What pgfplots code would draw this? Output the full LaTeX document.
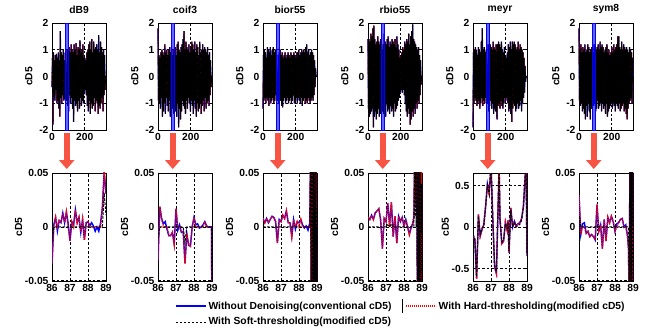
\documentclass[border=0pt]{standalone}
\usepackage{fontspec}
\setmainfont{Liberation Sans}
\usepackage{pgfplots}
\pgfplotsset{compat=1.18}
\usepackage{pgfplotstable}
\usetikzlibrary{arrows.meta}
\definecolor{arr}{RGB}{248,84,68}
\newcommand{\ff}{\bfseries\fontsize{10.3}{12}\selectfont}

\pgfplotstableread{
x D C B R M S
0 -0.4 1.8 -1.2 1.4 -1.9 1.8
3 0.7 -0.9 0.8 -1.2 0.9 -0.9
6 -1.8 0.8 -0.9 1.4 -1.0 1.0
9 0.9 -1.0 1.0 -1.5 1.0 -1.1
12 -0.8 0.7 -0.8 1.3 -0.8 1.2
15 0.6 -1.2 0.9 -1.4 1.1 -1.0
18 -0.9 0.9 -1.0 1.6 -0.9 0.9
21 0.8 -0.8 0.7 -1.3 1.0 -1.3
24 -0.5 1.0 -0.8 1.5 -1.1 1.1
27 0.85 -1.5 1.1 -1.2 0.8 -1.2
30 -1.0 0.9 -0.9 1.8 -1.0 1.0
33 0.7 -1.3 1.0 -1.9 1.1 -1.4
36 -0.9 0.8 -1.1 1.9 -0.9 1.2
39 0.9 -1.0 0.9 -1.5 1.0 -1.6
42 -1.2 1.2 -0.8 1.4 -1.2 0.9
45 0.6 -1.4 1.1 -1.3 0.9 -1.1
48 -1.5 0.9 -1.0 1.2 -1.0 1.0
51 1.7 -0.8 0.8 -1.6 1.3 -1.5
54 -0.8 1.0 -0.9 1.3 -0.8 1.2
57 0.9 -1.1 1.0 -1.4 1.8 -1.0
60 -1.0 0.8 -0.8 1.5 -1.1 1.1
63 0.8 -1.3 1.1 -1.2 1.0 -1.3
66 -0.7 1.0 -1.0 1.3 -0.9 0.9
69 1.0 -0.9 0.9 -1.5 1.1 -1.6
72 -0.9 1.1 -0.9 1.2 -1.0 1.0
75 0.6 -1.5 1.0 -1.4 0.9 -1.2
78 -0.85 0.9 -0.7 1.4 -0.8 1.1
81 0.9 -1.0 0.6 -1.1 1.0 -1.0
84 -0.6 0.8 -0.8 1.0 -0.9 0.9
87 0.02 0.01 0.02 0.02 0.03 0.01
90 -0.9 -1.2 -0.9 -1.3 -1.0 -1.1
93 1.0 1.0 0.8 1.2 1.2 1.2
96 -1.1 -1.4 -1.0 -1.4 -1.3 -1.0
99 0.8 0.9 0.9 1.6 1.0 1.1
102 -1.3 -1.0 -0.8 -1.1 -1.1 -1.3
105 1.1 1.1 1.0 1.3 1.2 1.0
108 -0.7 -1.3 -0.9 -1.5 -0.9 -1.2
111 0.9 0.8 0.8 1.2 1.1 1.1
114 -1.0 -1.5 -1.1 -1.0 -1.2 -0.9
117 1.2 1.2 0.9 1.4 1.0 1.2
120 -0.8 -1.0 -1.15 -1.3 -1.0 -1.2
123 1.0 1.3 0.7 1.5 1.3 1.0
126 -1.2 -1.9 -0.9 -1.2 -1.4 -1.1
129 0.9 1.0 0.8 1.1 1.1 1.3
132 -1.7 -1.2 -0.8 -1.4 -1.2 -1.0
135 1.2 0.9 0.9 1.3 1.0 1.1
138 -0.9 -1.6 -1.0 -1.1 -1.3 -1.3
141 1.0 1.1 0.7 1.2 1.2 1.2
144 -1.1 -1.3 -0.9 -1.3 -1.0 -1.0
147 1.25 1.2 0.8 1.4 -1.6 1.1
150 -1.0 -0.9 -0.8 -1.2 1.2 -1.2
153 0.8 1.4 0.9 1.3 -1.1 0.9
156 -1.3 -1.1 -1.0 -1.5 1.3 -1.1
159 1.1 1.7 0.8 1.2 -1.0 1.0
162 -0.9 -1.2 -0.9 -1.0 1.2 -1.4
165 1.0 1.0 0.7 1.4 -1.2 1.1
168 -1.2 -1.4 -0.8 -1.3 1.1 -1.0
171 1.35 1.3 0.9 1.1 -0.9 1.2
174 -0.8 -0.9 -1.0 -1.2 1.3 -1.5
177 0.9 1.1 0.8 1.5 -1.1 0.9
180 -1.1 -1.2 -0.9 -1.1 1.0 -1.3
183 1.0 1.0 0.8 1.2 -1.2 1.0
186 -0.9 -0.8 -0.7 -0.9 0.9 -1.2
189 1.2 1.2 0.9 1.0 -1.0 0.8
192 -1.0 -1.0 -1.0 -0.8 1.1 -1.1
195 0.7 0.9 0.8 0.7 -0.8 0.9
198 -0.6 -1.3 -0.9 -0.6 0.8 -1.0
201 0.7 1.1 0.7 0.8 -0.9 1.1
204 -0.5 -0.9 -0.8 -0.5 0.7 -1.2
207 0.6 1.3 0.9 0.9 -0.8 0.9
210 -0.7 -1.1 -1.0 -0.6 0.9 -1.0
213 0.9 1.2 0.9 1.1 -1.0 1.2
216 -1.1 -1.4 -0.8 -0.5 1.2 -1.1
219 1.0 1.0 1.0 1.0 -1.3 1.0
222 -1.3 -0.9 -0.9 -0.7 1.1 -1.3
225 1.2 1.3 0.8 1.3 -1.2 1.1
228 -0.9 -1.2 -1.0 -1.0 1.3 -1.0
231 1.3 0.9 0.9 1.2 -1.4 1.2
234 -1.4 -1.5 -0.8 -1.3 1.0 -1.1
237 1.0 1.2 1.0 1.4 -1.7 1.5
240 -1.0 -1.0 -1.1 -1.5 1.3 -1.2
243 1.4 1.1 0.9 1.3 -1.2 1.5
246 -1.2 -1.3 -0.9 -1.2 1.2 -1.0
249 0.9 0.8 1.0 1.6 -1.0 1.1
252 -1.1 -1.2 -0.8 -1.4 1.3 -1.3
255 1.3 1.3 0.9 1.2 -1.1 1.0
258 -0.8 -1.0 -1.0 -1.8 1.2 -1.2
261 1.0 0.9 1.1 1.5 -1.3 1.3
264 -1.3 -1.4 -0.9 -1.6 1.0 -1.1
267 1.1 1.0 1.2 1.7 -1.2 1.0
270 -0.9 -1.1 -1.0 -1.3 1.1 -1.0
273 1.2 1.2 0.9 1.95 -1.0 1.2
276 -1.0 -0.9 -0.8 -1.5 1.3 -1.3
279 1.0 1.0 1.0 1.4 -1.2 1.1
282 -1.4 -1.3 -0.9 -1.2 1.0 -1.2
285 1.55 1.1 0.8 1.3 -1.1 1.0
288 -1.1 -0.8 -1.0 -1.4 1.2 -1.4
291 0.9 1.0 0.9 1.2 -0.9 1.1
294 -1.2 -1.2 -0.9 -1.0 1.1 -1.6
297 1.3 0.9 1.0 1.1 -1.3 1.0
300 -1.0 -1.0 -0.8 -1.2 1.0 -1.2
303 1.1 1.1 0.9 1.0 -1.0 0.9
306 -0.8 -0.9 -0.9 -0.9 0.9 -1.0
309 0.9 0.8 0.8 1.1 -0.8 1.1
312 -1.3 -1.1 -0.7 -1.0 0.7 -0.9
315 1.0 0.9 0.6 0.8 -0.6 1.0
318 -0.7 -0.7 -0.4 -0.7 0.4 -0.8
321 0.8 0.6 0.3 0.6 -0.2 0.9
324 -0.5 -0.4 0.0 -0.3 0.0 -1.0
327 0.0 0.0 0.0 0.0 0.0 0.7
330 0 0 0 0 0 0
}\toptab

\pgfplotstableread{
x raw hard soft
86.0 -0.034 -0.034 -0.014
86.1 0.002 0 0
86.2 0.009 0.009 0
86.3 -0.004 0 0
86.4 0.006 0.006 0
86.5 0.004 0.004 0
86.6 0.013 0.013 0
86.7 0.004 0.004 0
86.8 0.014 0.014 0
86.9 0.003 0 0
87.0 -0.013 -0.013 0
87.1 0.005 0.005 0
87.2 0.002 0 0
87.3 0.016 0.016 0
87.4 0.004 0.004 0
87.5 0.009 0.009 0
87.6 -0.005 -0.005 0
87.7 0.007 0.007 0
87.8 -0.012 -0.012 0
87.9 0.004 0.004 0
88.0 0.005 0.005 0
88.1 0.001 0 0
88.2 0.004 0 0
88.3 0.001 0 0
88.4 -0.004 0 0
88.5 0.000 0 0
88.6 -0.004 0 0
88.7 0.004 0 0
88.8 0.018 0.018 0
88.9 0.052 0.052 0.032
89.0 0.031 0.031 0.011
}\bA

\pgfplotstableread{
x raw hard soft
86.0 -0.031 -0.031 -0.011
86.1 0.019 0.019 0
86.2 0.008 0.008 0
86.3 0.003 0 0
86.4 0.005 0 0
86.5 -0.002 0 0
86.6 -0.008 -0.008 0
86.7 -0.008 -0.008 0
86.8 -0.005 -0.005 0
86.9 -0.016 -0.016 0
87.0 0.017 0.017 0
87.1 -0.003 0 0
87.2 0.002 0 0
87.3 -0.005 -0.005 0
87.4 -0.004 -0.004 0
87.5 -0.034 -0.034 -0.014
87.6 -0.006 -0.006 0
87.7 -0.017 -0.017 0
87.8 -0.018 -0.018 0
87.9 0.000 0 0
88.0 0.009 0.009 0
88.1 0.002 0 0
88.2 0.003 0 0
88.3 -0.001 0 0
88.4 0.000 0 0
88.5 0.002 0 0
88.6 0.005 0.005 0
88.7 0.001 0 0
88.8 0.000 0 0
88.9 0.000 0 0
88.97 0.000 0 0
89.0 -0.09 -0.09 -0.07
}\bB

\pgfplotstableread{
x raw hard soft
86.0 0.008 0.008 0
86.1 0.004 0.004 0
86.2 0.008 0.008 0
86.3 0.004 0.004 0
86.4 0.007 0.007 0
86.5 0.010 0.010 0
86.6 0.009 0.009 0
86.7 0.005 0.005 0
86.8 -0.015 -0.015 0
86.9 0.007 0.007 0
87.0 0.005 0.005 0
87.1 0.011 0.011 0
87.2 0.008 0.008 0
87.3 0.015 0.015 0
87.4 0.004 0.004 0
87.5 0.004 0.004 0
87.6 -0.009 -0.009 0
87.7 0.007 0.007 0
87.8 -0.002 0 0
87.9 0.005 0.005 0
88.0 0.004 0 0
88.1 0.007 0.007 0
88.2 0.002 0 0
88.3 -0.001 0 0
88.4 0.001 0 0
88.5 -0.003 0 0
88.6 0.004 0 0
88.65 0.09 0.09 0.07
88.675 -0.09 -0.09 -0.07
88.7 0.10 0.10 0.08
88.725 -0.08 -0.08 -0.06
88.75 0.09 0.09 0.07
88.775 -0.10 -0.10 -0.08
88.8 0.08 0.08 0.06
88.825 -0.09 -0.09 -0.07
88.85 0.10 0.10 0.08
88.875 -0.07 -0.07 -0.05
88.9 0.09 0.09 0.07
88.925 -0.10 -0.10 -0.08
88.95 0.08 0.08 0.06
88.975 -0.09 -0.09 -0.07
89.0 -0.019 -0.019 0
}\bC

\pgfplotstableread{
x raw hard soft
86.0 0.009 0.009 0
86.1 0.007 0.007 0
86.2 0.011 0.011 0
86.3 0.007 0.007 0
86.4 0.013 0.013 0
86.5 0.015 0.015 0
86.6 0.017 0.017 0
86.7 0.007 0.007 0
86.8 -0.020 -0.020 0
86.9 0.008 0.008 0
87.0 0.005 0.005 0
87.1 0.022 0.022 0.002
87.2 0.002 0 0
87.3 0.023 0.023 0.003
87.4 -0.009 -0.009 0
87.5 0.010 0.010 0
87.6 -0.015 -0.015 0
87.7 0.010 0.010 0
87.8 0.005 0.005 0
87.9 0.009 0.009 0
88.0 0.001 0 0
88.1 0.007 0.007 0
88.2 0.000 0 0
88.3 -0.007 -0.007 0
88.4 0.000 0 0
88.5 0.004 0.004 0
88.55 0.010 0.010 0
88.6 0.09 0.09 0.07
88.625 0.03 0.03 0.01
88.65 0.10 0.10 0.08
88.675 0.02 0.02 0
88.7 0.09 0.09 0.07
88.725 -0.01 -0.01 0
88.75 -0.09 -0.09 -0.07
88.775 0.10 0.10 0.08
88.8 -0.10 -0.10 -0.08
88.825 0.09 0.09 0.07
88.85 -0.09 -0.09 -0.07
88.875 0.10 0.10 0.08
88.9 -0.08 -0.08 -0.06
88.925 0.09 0.09 0.07
88.95 -0.10 -0.10 -0.08
88.975 0.06 0.06 0.04
89.0 -0.026 -0.026 -0.006
}\bD

\pgfplotstableread{
x raw hard soft
86.0 -0.11 -0.11 -0.09
86.1 -0.15 -0.15 -0.13
86.2 -0.62 -0.62 -0.60
86.3 0.15 0.15 0.13
86.4 -0.11 -0.11 -0.09
86.5 -0.03 -0.03 -0.01
86.6 0.03 0.03 0.01
86.7 0.25 0.25 0.23
86.8 0.52 0.52 0.50
86.9 0.41 0.41 0.39
87.0 0.75 0.75 0.73
87.1 0.10 0.10 0.08
87.2 -0.48 -0.48 -0.46
87.3 -0.56 -0.56 -0.54
87.4 0.30 0.30 0.28
87.45 0.75 0.75 0.73
87.5 0.10 0.10 0.08
87.6 -0.20 -0.20 -0.18
87.7 -0.17 -0.17 -0.15
87.8 0.06 0.06 0.04
87.9 -0.04 -0.04 -0.02
87.95 0.08 0.08 0.06
88.0 -0.31 -0.31 -0.29
88.1 0.23 0.23 0.21
88.2 0.00 0 0
88.3 0.07 0.07 0.05
88.4 0.01 0 0
88.5 0.04 0.04 0.02
88.6 0.05 0.05 0.03
88.7 0.10 0.10 0.08
88.8 0.25 0.25 0.23
88.9 0.62 0.62 0.60
88.95 0.75 0.75 0.73
89.0 -0.35 -0.35 -0.33
}\bE

\pgfplotstableread{
x raw hard soft
86.0 0.030 0.030 0.010
86.1 -0.007 -0.007 0
86.2 0.003 0 0
86.3 0.004 0 0
86.4 -0.006 -0.006 0
86.5 -0.004 -0.004 0
86.6 -0.009 -0.009 0
86.7 -0.007 -0.007 0
86.8 -0.009 -0.009 0
86.9 -0.012 -0.012 0
87.0 0.021 0.021 0.001
87.1 -0.004 -0.004 0
87.2 0.002 0 0
87.3 -0.020 -0.020 0
87.4 0.007 0.007 0
87.5 -0.013 -0.013 0
87.6 0.009 0.009 0
87.7 0.004 0.004 0
87.8 0.010 0.010 0
87.9 0.005 0.005 0
88.0 -0.004 -0.004 0
88.1 0.003 0 0
88.2 0.004 0.004 0
88.3 0.007 0.007 0
88.4 0.008 0.008 0
88.5 0.000 0 0
88.6 0.002 0 0
88.7 -0.009 -0.009 0
88.75 -0.020 -0.020 0
88.8 -0.09 -0.09 -0.07
88.825 0.08 0.08 0.06
88.85 -0.09 -0.09 -0.07
88.875 0.10 0.10 0.08
88.9 -0.08 -0.08 -0.06
88.925 0.09 0.09 0.07
88.95 -0.10 -0.10 -0.08
88.975 0.08 0.08 0.06
89.0 -0.018 -0.018 0
}\bF

\pgfplotsset{
  base/.style={scale only axis, width=54pt, anchor=south west,
    axis line style={line width=0.9pt}, tick style={black, line width=0.6pt},
    major tick length=2pt, tick align=inside,
    grid=major, grid style={black, line width=0.5pt, dash pattern=on 2.5pt off 2pt},
    ticklabel style={font=\ff}, label style={font=\ff}, title style={font=\ff},
    /pgf/number format/assume math mode=true, ylabel={cD5}},
  topax/.style={base, height=107pt, xmin=0, xmax=330, ymin=-2, ymax=2,
    xtick={0,200}, ytick={-2,-1,0,1,2}, clip=false},
  botax/.style={base, height=108pt, xmin=86, xmax=89, ymin=-0.0503, ymax=0.0503,
    xtick={86,87,88,89}, ytick={-0.05,0,0.05}, yticklabels={-0.05,0,0.05},
    scaled y ticks=false, ylabel style={yshift=-4pt}},
}

\newcommand{\topplots}[1]{%
  \addplot[blue, line width=1.2pt] table[x=x,y=#1]{\toptab};
  \addplot[red, line width=1pt, dash pattern=on 0.8pt off 0.8pt] table[x=x,y=#1]{\toptab};
  \addplot[black, line width=1pt, dash pattern=on 6pt off 0.6pt] table[x=x,y=#1]{\toptab};
  \draw[blue, fill=blue, fill opacity=0.6, line width=0.8pt] (axis cs:84,-2) rectangle (axis cs:101,2);
  \draw[arr, line width=6pt, -{Triangle[width=15pt,length=9pt]}] (axis cs:90,-2.11) -- (axis cs:90,-3.46);
}
\newcommand{\botplots}[1]{%
  \addplot[blue, line width=1.4pt, forget plot] table[x=x,y=raw]{#1};
  \addplot[red, line width=1.4pt, dash pattern=on 1pt off 1pt, forget plot] table[x=x,y=hard]{#1};
  \addplot[black, line width=1pt, dash pattern=on 2.5pt off 1.5pt, forget plot] table[x=x,y=soft]{#1};
}

\begin{document}
\begin{tikzpicture}
\useasboundingbox (0pt,0pt) rectangle (651pt,329pt);
% top row
\begin{axis}[topax, at={(52pt,199pt)}, title={dB9}] \topplots{D} \end{axis}
\begin{axis}[topax, at={(158pt,199pt)}, title={coif3}] \topplots{C} \end{axis}
\begin{axis}[topax, at={(263pt,199pt)}, title={bior55}] \topplots{B} \end{axis}
\begin{axis}[topax, at={(368pt,199pt)}, title={rbio55}] \topplots{R} \end{axis}
\begin{axis}[topax, at={(473pt,199pt)}, title={meyr}] \topplots{M} \end{axis}
\begin{axis}[topax, at={(579pt,199pt)}, title={sym8}] \topplots{S} \end{axis}
% bottom row
\begin{axis}[botax, at={(52pt,48pt)},
  legend columns=2,
  legend cell align=left,
  legend style={at={(rel axis cs:2.28,-0.17)}, anchor=north west, draw=none, fill=none,
    font=\ff, inner sep=0pt, row sep=3pt,
    /tikz/every even column/.append style={column sep=12pt}}]
  \botplots{\bA}
  \addlegendimage{legend image code/.code={\draw[blue, line width=1.2pt] (0pt,0pt) -- (30pt,0pt);}}
  \addlegendentry{Without Denoising(conventional cD5)}
  \addlegendimage{legend image code/.code={\draw[red, line width=1.2pt, dash pattern=on 1.1pt off 0.9pt] (0pt,0pt) -- (30pt,0pt);}}
  \addlegendentry{With Hard-thresholding(modified cD5)}
  \addlegendimage{legend image code/.code={\draw[black, line width=0.9pt, dash pattern=on 2.5pt off 1.5pt] (0pt,0pt) -- (30pt,0pt);}}
  \addlegendentry{With Soft-thresholding(modified cD5)}
\end{axis}
\begin{axis}[botax, at={(158pt,48pt)}] \botplots{\bB} \end{axis}
\begin{axis}[botax, at={(263pt,48pt)}] \botplots{\bC} \end{axis}
\begin{axis}[botax, at={(368pt,48pt)}] \botplots{\bD} \end{axis}
\begin{axis}[botax, at={(473pt,48pt)}, ymin=-0.65, ymax=0.65, ytick={-0.5,0,0.5}, yticklabels={-0.5,0,0.5}] \botplots{\bE} \end{axis}
\begin{axis}[botax, at={(579pt,48pt)}] \botplots{\bF} \end{axis}
\draw[line width=0.8pt] (402pt,30pt) -- (402pt,16pt);
\end{tikzpicture}
\end{document}
